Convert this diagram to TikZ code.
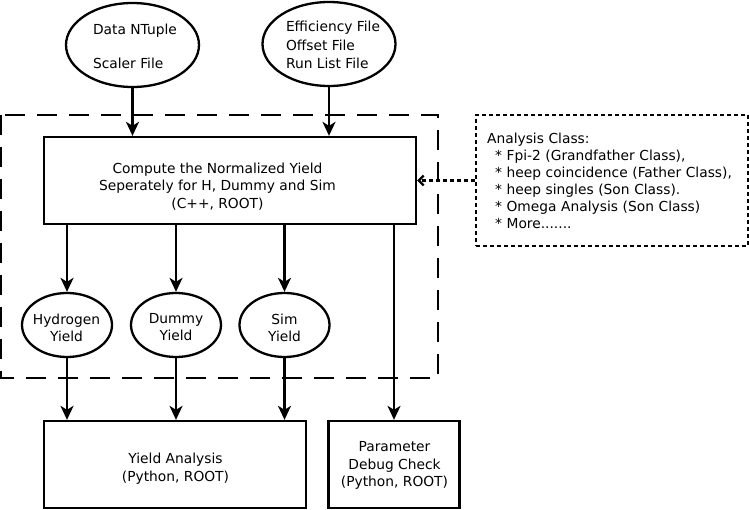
\documentclass[tikz,border=0pt]{standalone}
\usepackage{fontspec}
\setmainfont{DejaVu Sans}
\usetikzlibrary{arrows.meta,shapes.geometric}
\begin{document}
\begin{tikzpicture}[x=1pt,y=-1pt,
  every node/.style={font=\fontsize{13.8}{17.5}\selectfont},
  ell/.style={draw,ellipse,line width=2.3pt,inner sep=0pt,align=center},
  box/.style={draw,rectangle,line width=2.3pt,inner sep=0pt,align=center},
  lbl/.style={inner sep=0pt,align=left},
  clbl/.style={inner sep=0pt,align=center},
  arr/.style={line width=2.2pt,-{Stealth[length=14pt,width=13pt,inset=4pt]}},
  dotline/.style={line width=2.2pt,dash pattern=on 4pt off 3pt},
]
\useasboundingbox (0,0) rectangle (749,510);
\draw[line width=2.3pt, dash pattern=on 20pt off 12pt] (1,115) rectangle (438,378);
\node[ell, minimum width=133pt, minimum height=84pt] (data) at (132.5,45) {};
\node[lbl, font=\fontsize{13.8}{17}\selectfont] (datatext) at (135,46) {Data NTuple\\[17pt]Scaler File};
\node[ell, minimum width=133pt, minimum height=84pt] (eff) at (329,44) {};
\node[lbl, font=\fontsize{13.8}{18.5}\selectfont] (efftext) at (333,45) {Efficiency File\\Offset File\\Run List File};
\node[box, minimum width=372pt, minimum height=87pt] (main) at (230,180.5) {};
\node[clbl, font=\fontsize{13.8}{17.5}\selectfont] (maintext) at (217.5,186.5) {Compute the Normalized Yield\\Seperately for H, Dummy and Sim\\(C++, ROOT)};
\node[ell, minimum width=90pt, minimum height=64pt] (hyd) at (67,325) {};
\node[clbl, font=\fontsize{13.8}{17}\selectfont] (hydtext) at (66.5,327.5) {Hydrogen\\Yield};
\node[ell, minimum width=90pt, minimum height=64pt] (dum) at (176,325) {};
\node[clbl, font=\fontsize{13.8}{17}\selectfont] (dumtext) at (176,327.5) {Dummy\\Yield};
\node[ell, minimum width=90pt, minimum height=64pt] (sim) at (284.5,325) {};
\node[clbl, font=\fontsize{13.8}{17}\selectfont] (simtext) at (284.5,327.5) {Sim\\Yield};
\node[box, minimum width=262pt, minimum height=87pt] (yield) at (175,464.5) {};
\node[clbl, font=\fontsize{13.8}{18}\selectfont] (yieldtext) at (175.5,469) {Yield Analysis\\(Python, ROOT)};
\node[box, minimum width=131pt, minimum height=87pt] (param) at (394,464.5) {};
\node[clbl, font=\fontsize{13.8}{17.5}\selectfont] (paramtext) at (394.5,465.5) {Parameter\\Debug Check\\(Python, ROOT)};
\node[draw,dotline,rectangle,align=left,inner xsep=11pt,inner ysep=0pt,text width=250pt,minimum height=131pt,anchor=west,font=\fontsize{13.8}{17}\selectfont] (cls) at (475,180.5) {Analysis Class:\\
\hspace*{8pt}* Fpi-2 (Grandfather Class),\\
\hspace*{8pt}* heep coincidence (Father Class),\\
\hspace*{8pt}* heep singles (Son Class).\\
\hspace*{8pt}* Omega Analysis (Son Class)\\
\hspace*{8pt}* More.......};
\draw[arr] (data.south) -- (data.south |- main.north);
\draw[arr] (eff.south) -- (eff.south |- main.north);
\draw[arr] (hyd.north |- main.south) -- (hyd.north);
\draw[arr] (dum.north |- main.south) -- (dum.north);
\draw[arr] (sim.north |- main.south) -- (sim.north);
\draw[arr] (param.north |- main.south) -- (param.north);
\draw[arr] (hyd.south) -- (hyd.south |- yield.north);
\draw[arr] (dum.south) -- (dum.south |- yield.north);
\draw[arr] (sim.south) -- (sim.south |- yield.north);
\draw[dotline,-{Straight Barb[length=5pt,width=10pt]}] (cls.west) -- (main.east);
\end{tikzpicture}
\end{document}
